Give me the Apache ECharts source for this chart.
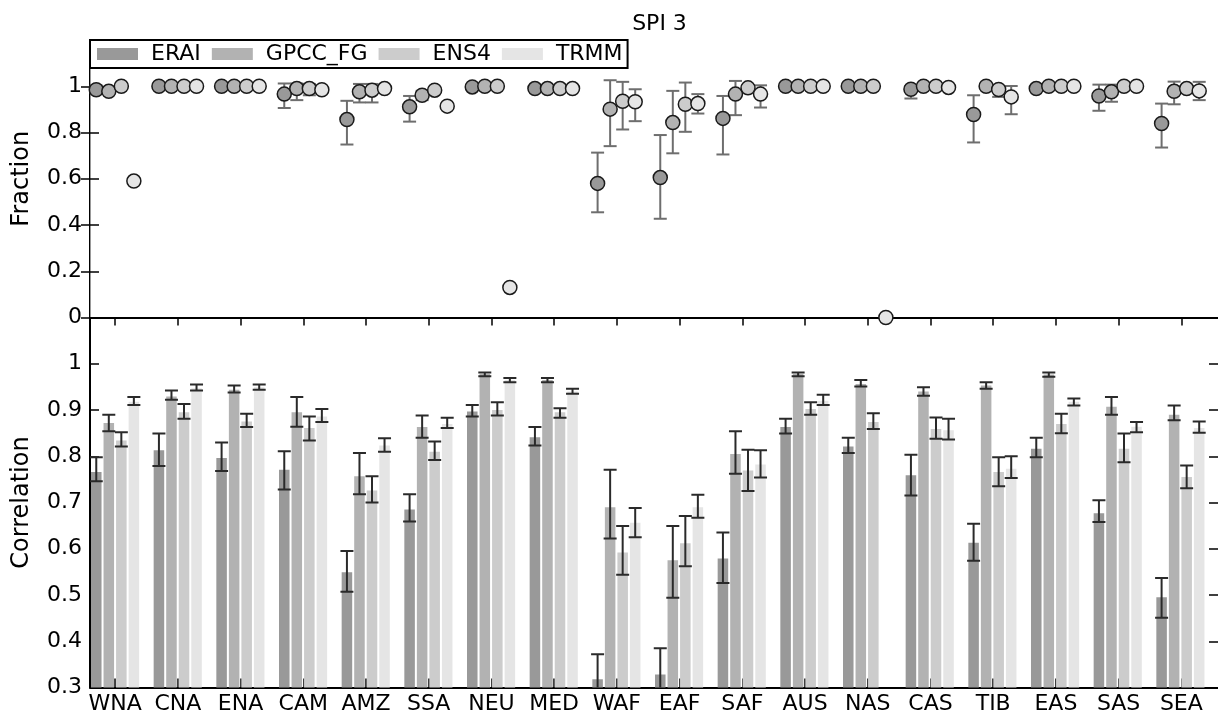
<!DOCTYPE html>
<html><head><meta charset="utf-8">
<script src="https://cdn.jsdelivr.net/npm/echarts@6/dist/echarts.min.js"></script>
<style>html,body{margin:0;padding:0;background:#fff}#c{width:1218px;height:720px}</style>
</head><body><div id="c"></div>
<script>
const regions = ['WNA','CNA','ENA','CAM','AMZ','SSA','NEU','MED','WAF','EAF','SAF','AUS','NAS','CAS','TIB','EAS','SAS','SEA'];
const datasets = ['ERAI','GPCC_FG','ENS4','TRMM'];
const yTicksFraction = [0, 0.2, 0.4, 0.6, 0.8, 1];
const yTicksCorrelation = [0.3, 0.4, 0.5, 0.6, 0.7, 0.8, 0.9, 1];

// Fraction (top panel)
const fracERAI = [0.985,1.0,1.0,0.966,0.856,0.911,0.997,0.99,0.58,0.605,0.861,1.0,1.0,0.987,0.878,0.99,0.958,0.839];
const fracGPCC = [0.978,1.0,1.0,0.99,0.976,0.961,1.0,0.99,0.901,0.843,0.966,1.0,1.0,1.0,1.0,1.0,0.976,0.978];
const fracENS4 = [1.0,1.0,1.0,0.99,0.983,0.983,1.0,0.99,0.935,0.922,0.993,1.0,1.0,1.0,0.986,1.0,1.0,0.99];
const fracTRMM = [0.59,1.0,1.0,0.985,0.99,0.914,0.13,0.99,0.933,0.925,0.966,1.0,0.0,0.995,0.954,1.0,1.0,0.98];
const fracERAILo = [0.97,null,null,0.906,0.748,0.847,null,null,0.455,0.427,0.705,null,null,0.947,0.757,null,0.894,0.735];
const fracERAIHi = [1.003,null,null,1.012,0.937,0.958,null,null,0.713,0.789,0.958,null,null,1.0,0.961,null,1.007,0.925];
const fracGPCCLo = [null,null,null,0.94,0.93,0.94,null,null,0.741,0.71,0.875,null,null,null,null,null,0.933,0.922];
const fracGPCCHi = [null,null,null,1.012,1.01,0.98,null,null,1.026,0.98,1.023,null,null,null,null,null,1.007,1.02];
const fracENS4Lo = [null,null,null,0.961,0.93,null,null,null,0.813,0.803,null,null,null,null,0.954,null,null,null];
const fracENS4Hi = [null,null,null,1.01,1.01,null,null,null,1.019,1.016,null,null,null,null,1.0,null,null,null];
const fracTRMMLo = [null,null,null,null,null,null,null,null,0.849,0.882,0.908,null,null,null,0.879,null,null,0.94];
const fracTRMMHi = [null,null,null,null,null,null,null,null,0.987,0.966,1.004,null,null,null,1.001,null,null,1.019];

// Correlation (bottom panel)
const corrERAI = [0.766,0.813,0.796,0.771,0.549,0.685,0.897,0.841,0.318,0.328,0.579,0.863,0.821,0.759,0.613,0.816,0.677,0.495];
const corrERAILo = [0.746,0.779,0.768,0.728,0.507,0.659,0.886,0.823,0.264,0.272,0.526,0.849,0.807,0.715,0.574,0.798,0.658,0.451];
const corrERAIHi = [0.798,0.849,0.830,0.811,0.595,0.718,0.911,0.863,0.372,0.385,0.635,0.881,0.840,0.803,0.654,0.840,0.705,0.537];
const corrGPCC = [0.872,0.929,0.944,0.895,0.757,0.863,0.978,0.965,0.690,0.575,0.805,0.978,0.956,0.940,0.953,0.977,0.907,0.890];
const corrGPCCLo = [0.854,0.922,0.938,0.864,0.718,0.840,0.973,0.960,0.622,0.494,0.762,0.973,0.951,0.931,0.946,0.972,0.890,0.878];
const corrGPCCHi = [0.890,0.942,0.953,0.928,0.807,0.888,0.981,0.969,0.771,0.649,0.854,0.981,0.965,0.949,0.960,0.981,0.928,0.910];
const corrENS4 = [0.834,0.895,0.875,0.861,0.726,0.810,0.900,0.895,0.592,0.612,0.769,0.902,0.874,0.859,0.766,0.870,0.816,0.755];
const corrENS4Lo = [0.821,0.881,0.863,0.834,0.700,0.792,0.888,0.883,0.544,0.562,0.725,0.890,0.859,0.838,0.735,0.850,0.787,0.731];
const corrENS4Hi = [0.852,0.913,0.892,0.886,0.757,0.832,0.917,0.904,0.649,0.671,0.814,0.917,0.893,0.884,0.798,0.892,0.849,0.780];
const corrTRMM = [0.918,0.947,0.949,0.886,0.823,0.870,0.965,0.940,0.656,0.690,0.782,0.920,null,0.856,0.773,0.918,0.864,0.861];
const corrTRMMLo = [0.911,0.942,0.944,0.874,0.810,0.861,0.960,0.935,0.625,0.667,0.754,0.911,null,0.836,0.753,0.910,0.852,0.851];
const corrTRMMHi = [0.928,0.955,0.955,0.902,0.839,0.883,0.969,0.946,0.688,0.717,0.813,0.933,null,0.881,0.800,0.925,0.874,0.875];

const COLORS = ['#999999','#b2b2b2','#cccccc','#e5e5e5'];
const FONT = 'DejaVu Sans';
const FS = 22;
const FS_NAME = 24;
const BAR_W = 0.2;

const frac = [fracERAI, fracGPCC, fracENS4, fracTRMM];
const fracLo = [fracERAILo, fracGPCCLo, fracENS4Lo, fracTRMMLo];
const fracHi = [fracERAIHi, fracGPCCHi, fracENS4Hi, fracTRMMHi];
const corr = [corrERAI, corrGPCC, corrENS4, corrTRMM];
const corrLo = [corrERAILo, corrGPCCLo, corrENS4Lo, corrTRMMLo];
const corrHi = [corrERAIHi, corrGPCCHi, corrENS4Hi, corrTRMMHi];

function errRender(color, capHalf) {
  return function (params, api) {
    const x = api.value(0), lo = api.value(1), hi = api.value(2);
    const a = api.coord([x, lo]), b = api.coord([x, hi]);
    const style = { stroke: color, lineWidth: 2 };
    return { type: 'group', children: [
      { type: 'line', shape: { x1: a[0], y1: a[1], x2: b[0], y2: b[1] }, style },
      { type: 'line', shape: { x1: a[0] - capHalf, y1: a[1], x2: a[0] + capHalf, y2: a[1] }, style },
      { type: 'line', shape: { x1: b[0] - capHalf, y1: b[1], x2: b[0] + capHalf, y2: b[1] }, style }
    ]};
  };
}

function barRender(params, api) {
  const x0 = api.value(0), v = api.value(1);
  const p0 = api.coord([x0, v]);
  const p1 = api.coord([x0 + BAR_W, 0]);
  return { type: 'rect',
    shape: { x: p0[0] + 1, y: p0[1], width: p1[0] - p0[0] - 2, height: p1[1] - p0[1] },
    style: { fill: api.visual('color') } };
}

const series = [];
datasets.forEach((name, k) => {
  const data = [];
  regions.forEach((r, i) => { if (fracLo[k][i] != null) data.push([i + 0.1 + BAR_W * k, fracLo[k][i], fracHi[k][i]]); });
  series.push({ type: 'custom', name, xAxisIndex: 0, yAxisIndex: 0, z: 3, clip: false,
    itemStyle: { color: COLORS[k] }, encode: { x: 0, y: [1, 2] }, data, renderItem: errRender('#6e6e6e', 6.5) });
});
datasets.forEach((name, k) => {
  series.push({ type: 'scatter', name, xAxisIndex: 0, yAxisIndex: 0, z: 4, clip: false,
    symbol: 'circle', symbolSize: 14,
    itemStyle: { color: COLORS[k], borderColor: '#1a1a1a', borderWidth: 1.5, opacity: 1 },
    data: regions.map((r, i) => [i + 0.1 + BAR_W * k, frac[k][i]]) });
});
datasets.forEach((name, k) => {
  const data = [];
  regions.forEach((r, i) => { if (corr[k][i] != null) data.push([i + BAR_W * k, corr[k][i]]); });
  series.push({ type: 'custom', name, xAxisIndex: 1, yAxisIndex: 1, z: 2, clip: true,
    itemStyle: { color: COLORS[k] }, encode: { x: 0, y: 1 }, data, renderItem: barRender });
});
datasets.forEach((name, k) => {
  const data = [];
  regions.forEach((r, i) => { if (corr[k][i] != null) data.push([i + 0.1 + BAR_W * k, corrLo[k][i], corrHi[k][i]]); });
  series.push({ type: 'custom', name, xAxisIndex: 1, yAxisIndex: 1, z: 3, clip: true,
    itemStyle: { color: COLORS[k] }, encode: { x: 0, y: [1, 2] }, data, renderItem: errRender('#2a2a2a', 6.5) });
});

const GL = 90, GW = 1129, TOP0 = 40, H0 = 277.5, TOP1 = 317.5, H1 = 370;
const BAND = GW / regions.length;
const lineBlack = { show: true, lineStyle: { color: '#000', width: 2 } };
const noTick = { show: false };
const noLabel = { show: false };
const TL = GL + 0.4 * BAND, TW = BAND * (regions.length - 1);
const tickStyle = { color: '#000', width: 1.5 };
const fmt = v => String(+(+v).toFixed(1));

const option = {
  animation: false,
  backgroundColor: '#fff',
  textStyle: { fontFamily: FONT },
  title: { text: 'SPI 3', left: GL + GW / 2, textAlign: 'center', top: 8,
    textStyle: { fontFamily: FONT, fontSize: FS, fontWeight: 'normal', color: '#000' } },
  legend: {
    left: GL, top: TOP0, orient: 'horizontal',
    data: datasets.map(n => ({ name: n, icon: 'rect' })),
    itemWidth: 41, itemHeight: 12, itemGap: 11,
    itemStyle: { borderWidth: 0 },
    padding: [3, 5, 3, 7],
    backgroundColor: '#fff', borderColor: '#000', borderWidth: 2, borderRadius: 0,
    textStyle: { fontFamily: FONT, fontSize: FS, color: '#000', padding: [0, 0, 0, 8] },
    selectedMode: false, z: 10
  },
  grid: [
    { left: GL, top: TOP0, width: GW, height: H0 },
    { left: GL, top: TOP1, width: GW, height: H1 },
    { left: TL, top: TOP0, width: TW, height: H0 },
    { left: TL, top: TOP1, width: TW, height: H1 }
  ],
  xAxis: [
    { gridIndex: 0, type: 'value', min: 0, max: regions.length, position: 'bottom', axisLine: lineBlack, axisTick: noTick, axisLabel: noLabel, splitLine: { show: false } },
    { gridIndex: 1, type: 'value', min: 0, max: regions.length, position: 'bottom', axisLine: lineBlack, axisTick: noTick, axisLabel: noLabel, splitLine: { show: false } },
    { gridIndex: 0, type: 'value', min: 0, max: regions.length, position: 'top', axisLine: lineBlack, axisTick: noTick, axisLabel: noLabel, splitLine: { show: false } },
    { gridIndex: 2, type: 'category', data: regions, boundaryGap: false, position: 'top', axisLine: { show: false },
      axisTick: { show: true, inside: true, interval: 0, length: 8, lineStyle: tickStyle }, axisLabel: noLabel },
    { gridIndex: 3, type: 'category', data: regions, boundaryGap: false, position: 'bottom', axisLine: { show: false },
      axisTick: { show: true, inside: true, interval: 0, length: 9, lineStyle: tickStyle },
      axisLabel: { show: true, margin: 6, fontFamily: FONT, fontSize: FS, color: '#000', interval: 0 } }
  ],
  yAxis: [
    { gridIndex: 0, type: 'value', min: 0, max: 1.2, interval: 0.2, position: 'left', axisLine: lineBlack,
      axisTick: { show: true, inside: true, length: 9, lineStyle: tickStyle, customValues: yTicksFraction },
      axisLabel: { margin: 8, fontFamily: FONT, fontSize: FS, color: '#000', customValues: yTicksFraction, formatter: fmt },
      splitLine: { show: false },
      name: 'Fraction', nameLocation: 'middle', nameGap: 56, nameTextStyle: { fontFamily: FONT, fontSize: FS_NAME, color: '#000' } },
    { gridIndex: 1, type: 'value', min: 0.3, max: 1.1, interval: 0.1, position: 'left', axisLine: lineBlack,
      axisTick: { show: true, inside: true, length: 9, lineStyle: tickStyle, customValues: yTicksCorrelation },
      axisLabel: { margin: 8, fontFamily: FONT, fontSize: FS, color: '#000', customValues: yTicksCorrelation, formatter: fmt },
      splitLine: { show: false },
      name: 'Correlation', nameLocation: 'middle', nameGap: 56, nameTextStyle: { fontFamily: FONT, fontSize: FS_NAME, color: '#000' } },
    { gridIndex: 0, type: 'value', min: 0, max: 1.2, interval: 0.2, position: 'right', axisLine: { show: true, lineStyle: { color: '#999', width: 1 } },
      axisTick: { show: true, inside: true, length: 9, lineStyle: tickStyle, customValues: yTicksFraction }, axisLabel: noLabel, splitLine: { show: false } },
    { gridIndex: 1, type: 'value', min: 0.3, max: 1.1, interval: 0.1, position: 'right', axisLine: { show: true, lineStyle: { color: '#999', width: 1 } },
      axisTick: { show: true, inside: true, length: 9, lineStyle: tickStyle, customValues: yTicksCorrelation }, axisLabel: noLabel, splitLine: { show: false } },
    { gridIndex: 2, type: 'value', show: false },
    { gridIndex: 3, type: 'value', show: false }
  ],
  series
};

const chart = echarts.init(document.getElementById('c'), null, { renderer: 'canvas' });
chart.setOption(option);
</script>
</body></html>
